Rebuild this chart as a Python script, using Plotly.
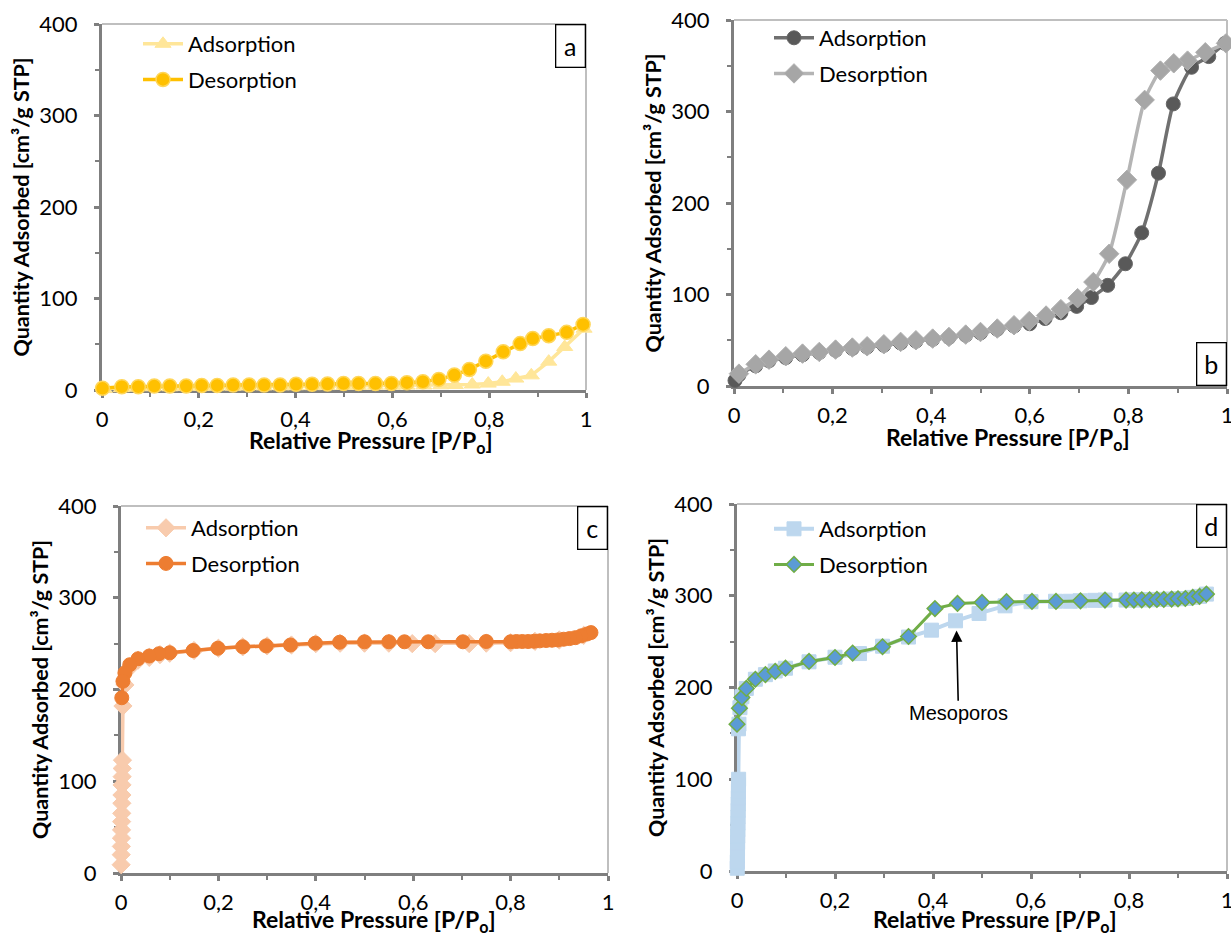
import plotly.graph_objects as go

# ---------------- data ----------------
# Panel a
a_ads_x = [0.005, 0.04, 0.07, 0.105, 0.14, 0.17, 0.205, 0.235, 0.27, 0.3, 0.335, 0.37, 0.4, 0.435, 0.465,
           0.5, 0.53, 0.565, 0.6, 0.63, 0.665, 0.7, 0.73, 0.765, 0.798, 0.827, 0.855, 0.887, 0.923, 0.956, 0.996]
a_ads_y = [1, 2, 2.5, 3, 3, 3.2, 3.4, 3.5, 3.6, 3.8, 3.9, 4, 4.1, 4.2, 4.3,
           4.4, 4.5, 4.6, 4.7, 4.8, 5, 5.2, 5.5, 6, 7, 9, 12.5, 16, 31, 47, 67]
a_des_x = [0.001, 0.041, 0.075, 0.108, 0.14, 0.174, 0.206, 0.238, 0.271, 0.304, 0.335, 0.368, 0.401, 0.434,
           0.466, 0.499, 0.53, 0.565, 0.598, 0.63, 0.663, 0.696, 0.728, 0.759, 0.793, 0.829, 0.864, 0.89,
           0.923, 0.96, 0.994]
a_des_y = [1.8, 3.6, 3.6, 4.3, 4.3, 4.3, 5.0, 5.0, 5.4, 5.4, 5.4, 5.4, 6.2, 6.2, 6.5, 7.0, 7.0, 7.0, 7.2,
           8.0, 9.0, 11.6, 16.3, 22.5, 31.5, 41.7, 50.7, 56.2, 59.4, 63.0, 71.7]

# Panel b
b_ads_x = [0.002, 0.01, 0.044, 0.071, 0.105, 0.139, 0.173, 0.206, 0.24, 0.27, 0.304, 0.338, 0.369, 0.403,
           0.436, 0.47, 0.5, 0.534, 0.568, 0.6, 0.631, 0.663, 0.695, 0.725, 0.758, 0.794, 0.827, 0.861,
           0.891, 0.928, 0.963, 0.996]
b_ads_y = [6, 12, 22, 27.5, 31, 34, 36.5, 39, 41, 42.5, 44.5, 47, 49, 51, 53, 55.5, 58, 62, 65.5, 68,
           73.7, 80, 87, 96.7, 110, 133.6, 167.4, 232.6, 308.3, 348.3, 360, 374.5]
b_des_x = [0.998, 0.956, 0.92, 0.892, 0.865, 0.833, 0.797, 0.761, 0.729, 0.697, 0.663, 0.633, 0.599, 0.568,
           0.534, 0.5, 0.47, 0.436, 0.403, 0.369, 0.338, 0.304, 0.27, 0.24, 0.206, 0.173, 0.139, 0.105,
           0.071, 0.044, 0.01]
b_des_y = [374.5, 364.7, 355.6, 352.7, 344.7, 312.7, 225.3, 144.5, 113.6, 96, 84, 77, 71, 66.4, 62.8, 59,
           56.2, 53.6, 51.8, 50, 48.2, 45.6, 43.4, 42, 39.8, 37.2, 35.4, 32.5, 28.8, 23.7, 13.5]

# Panel c
c_ads_x = [0.0003, 0.0005, 0.0007, 0.0009, 0.0011, 0.0013, 0.0015, 0.0017, 0.0019, 0.0021, 0.0023, 0.0026,
           0.003, 0.004, 0.008, 0.018, 0.035, 0.058, 0.08, 0.1, 0.15, 0.2, 0.25, 0.3, 0.35, 0.4, 0.45, 0.5,
           0.55, 0.598, 0.645, 0.715, 0.75, 0.8, 0.85, 0.9, 0.95]
c_ads_y = [9, 20, 29, 38, 47, 56, 65, 76, 85, 96, 105, 114, 123, 182, 205, 224, 232, 235, 238, 239.5,
           242.5, 245, 246.5, 247.5, 248.5, 250, 250.5, 250.5, 250.5, 250, 250, 250, 250.5, 251, 252.5, 254, 259]
c_des_x = [0.965, 0.957, 0.945, 0.933, 0.921, 0.909, 0.897, 0.885, 0.873, 0.86, 0.848, 0.836, 0.824, 0.812,
           0.8, 0.75, 0.702, 0.631, 0.582, 0.55, 0.5, 0.449, 0.399, 0.348, 0.298, 0.25, 0.199, 0.148, 0.1,
           0.078, 0.058, 0.035, 0.018, 0.008, 0.004, 0.0016]
c_des_y = [262, 260.5, 258.5, 256.5, 255.5, 254.8, 254, 253.7, 253.4, 253, 252.6, 252.3, 252.3, 252.3, 252,
           252.3, 252, 252, 252, 252, 252, 251.5, 250.5, 248.5, 247.5, 246.5, 245, 242.5, 240, 239, 236.5,
           233.5, 227, 218, 209, 191]

# Panel d
d_ads_x = [0.0005, 0.0007, 0.0009, 0.0011, 0.0013, 0.0015, 0.0017, 0.0019, 0.0021, 0.0023, 0.0025, 0.0027,
           0.0029, 0.0031, 0.0033, 0.003, 0.004, 0.006, 0.01, 0.019, 0.0375, 0.058, 0.078, 0.099, 0.147, 0.2,
           0.25, 0.297, 0.35, 0.397, 0.446, 0.494, 0.547, 0.6, 0.65, 0.68, 0.7, 0.73, 0.751, 0.794, 0.81,
           0.826, 0.842, 0.857, 0.871, 0.887, 0.9, 0.915, 0.93, 0.944, 0.958]
d_ads_y = [3, 10, 17, 24, 31, 38, 45, 52, 59, 66, 73, 80, 87, 94, 100, 155, 160, 178, 190, 199, 209, 214,
           218, 221, 228, 233, 237, 245, 255, 262.5, 272.7, 280.7, 289, 293.5, 294, 294, 294.5, 295, 295.3,
           295.3, 295.3, 295.6, 295.6, 296, 296, 296.4, 296.7, 297, 298.2, 299.3, 301.8]
d_des_x = [0.0, 0.005, 0.01, 0.019, 0.0375, 0.058, 0.078, 0.099, 0.147, 0.2, 0.236, 0.297, 0.35, 0.404, 0.45,
           0.5, 0.55, 0.602, 0.651, 0.701, 0.751, 0.794, 0.81, 0.826, 0.842, 0.857, 0.871, 0.887, 0.9, 0.915,
           0.93, 0.944, 0.958]
d_des_y = [160, 177.5, 189, 199, 209, 214, 217.5, 221, 228.4, 232.7, 237.5, 244.4, 255.6, 286, 291.6, 292.7,
           293.5, 293.8, 293.8, 294.5, 295.3, 295.3, 295.3, 295.6, 295.6, 296, 296, 296.4, 296.7, 297, 298.2,
           299.3, 301.8]

x_tickvals = [0, 0.2, 0.4, 0.6, 0.8, 1]
x_ticktext = ["0", "0,2", "0,4", "0,6", "0,8", "1"]
y_tickvals = [0, 100, 200, 300, 400]
y_ticktext = ["0", "100", "200", "300", "400"]
panel_labels = ["a", "b", "c", "d"]
series_names = ["Adsorption", "Desorption"]
x_title = "Relative Pressure [P/P<sub>o</sub>]"
y_title = "Quantity Adsorbed [cm³/g STP]"
note_text = "Mesoporos"

# ---------------- layout ----------------
W, H = 1231, 936
FONT = "Lato, Carlito, 'Open Sans', sans-serif"

# pixel boxes: (x0, x1, ytop, ybottom)
boxes = [(102, 586, 24, 390), (734, 1227, 20, 386), (121, 608, 506, 873), (737, 1227, 504, 871)]
legend_pos = [(138, 23), (769, 17), (141, 507), (769, 508)]
xtitle_pos = [(0.555, 441), (0.555, 438), (0.52, 920), (0.527, 920)]

fig = go.Figure()

def add(panel, x, y, name, mode_kw):
    sfx = "" if panel == 0 else str(panel + 1)
    fig.add_trace(go.Scatter(x=x, y=y, name=name, mode="lines+markers",
                             xaxis="x" + sfx, yaxis="y" + sfx,
                             legend="legend" + sfx, legendgroup=name + sfx,
                             cliponaxis=False, **mode_kw))

add(0, a_ads_x, a_ads_y, series_names[0],
    dict(line=dict(color="#FFE699", width=3.5),
         marker=dict(symbol="triangle-up", size=14, color="#FFE699", line=dict(color="#FFE699", width=1))))
add(0, a_des_x, a_des_y, series_names[1],
    dict(line=dict(color="#FFC000", width=3.5),
         marker=dict(symbol="circle", size=14, color="#FFC000", line=dict(color="#FFD659", width=1.5))))
add(1, b_ads_x, b_ads_y, series_names[0],
    dict(line=dict(color="#707070", width=3.5, shape="spline", smoothing=0.6),
         marker=dict(symbol="circle", size=14, color="#595959", line=dict(color="#666666", width=1))))
add(1, b_des_x, b_des_y, series_names[1],
    dict(line=dict(color="#B4B4B4", width=3.5, shape="spline", smoothing=0.6),
         marker=dict(symbol="diamond", size=15, color="#A6A6A6", line=dict(color="#B0B0B0", width=1))))
add(2, c_ads_x, c_ads_y, series_names[0],
    dict(line=dict(color="#F8CBAD", width=3.5),
         marker=dict(symbol="diamond", size=14, color="#F8CBAD", line=dict(color="#F8CBAD", width=1))))
add(2, c_des_x, c_des_y, series_names[1],
    dict(line=dict(color="#ED7D31", width=3.5),
         marker=dict(symbol="circle", size=14, color="#ED7D31", line=dict(color="#ED7D31", width=1))))
add(3, d_ads_x, d_ads_y, series_names[0],
    dict(line=dict(color="#BDD7EE", width=4),
         marker=dict(symbol="square", size=14, color="#BDD7EE", line=dict(color="#BDD7EE", width=1))))
add(3, d_des_x, d_des_y, series_names[1],
    dict(line=dict(color="#70AD47", width=3),
         marker=dict(symbol="diamond", size=12, color="#5B9BD5", line=dict(color="#70AD47", width=1.5))))

layout = dict(width=W, height=H, margin=dict(l=0, r=0, t=0, b=0, autoexpand=False),
              paper_bgcolor="white", plot_bgcolor="white",
              font=dict(family=FONT, color="black"), showlegend=True)

axis_col = "#7F7F7F"
annotations = []
shapes = []
for i, (x0, x1, yt, yb) in enumerate(boxes):
    sfx = "" if i == 0 else str(i + 1)
    xd = [x0 / W, x1 / W]
    yd = [1 - yb / H, 1 - yt / H]
    common = dict(showgrid=False, zeroline=False, showline=True, linecolor=axis_col, linewidth=3,
                  ticks="outside", ticklen=5, tickwidth=3, tickcolor=axis_col, automargin=False,
                  ticklabeloverflow="allow",
                  tickfont=dict(family=FONT, size=22, color="black"), layer="below traces")
    layout["xaxis" + sfx] = dict(domain=xd, range=[0, 1], anchor="y" + sfx, tickvals=x_tickvals,
                                 ticktext=x_ticktext, ticklabelstandoff=3,
                                 minor=dict(dtick=0.1, ticks="outside", ticklen=4, tickwidth=2,
                                            tickcolor=axis_col, showgrid=False),
                                 **common)
    layout["yaxis" + sfx] = dict(domain=yd, range=[0, 400], anchor="x" + sfx, tickvals=y_tickvals,
                                 ticktext=y_ticktext, ticklabelstandoff=12,
                                 minor=dict(dtick=50, ticks="outside", ticklen=4, tickwidth=2,
                                            tickcolor=axis_col, showgrid=False),
                                 title=dict(text=y_title,
                                            font=dict(family=FONT, size=21.5, color="black", weight="bold"),
                                            standoff=4),
                                 **common)
    lx, ly = legend_pos[i]
    layout["legend" + sfx] = dict(x=lx / W, y=1 - ly / H, xanchor="left", yanchor="top",
                                  bgcolor="rgba(0,0,0,0)", tracegroupgap=4,
                                  font=dict(family=FONT, size=22, color="black"), itemwidth=40)
    # plot area frame (top and right)
    xr, yr = "x" + sfx + " domain", "y" + sfx + " domain"
    shapes.append(dict(type="line", xref=xr, yref=yr, x0=0, x1=1, y0=1, y1=1,
                       line=dict(color="#BFBFBF", width=2), layer="below"))
    shapes.append(dict(type="line", xref=xr, yref=yr, x0=1, x1=1, y0=0, y1=1,
                       line=dict(color="#BFBFBF", width=2), layer="below"))
    # x title
    tx, ty = xtitle_pos[i]
    annotations.append(dict(text=x_title, xref=xr, yref="paper", x=tx, y=1 - ty / H,
                            xanchor="center", yanchor="middle", showarrow=False,
                            font=dict(family=FONT, size=23, color="black", weight="bold")))
    # panel label box
    top = i != 1
    annotations.append(dict(text=panel_labels[i], xref=xr, yref=yr, x=1, y=1 if top else 0,
                            xanchor="right", yanchor="top" if top else "bottom", showarrow=False,
                            font=dict(family=FONT, size=25, color="black"),
                            bordercolor="black", borderwidth=1.3, borderpad=5, bgcolor="white",
                            width=18, height=31))

annotations.append(dict(text=note_text, xref="x4", yref="y4", x=0.448, y=262, axref="x4", ayref="y4",
                        ax=0.452, ay=172, showarrow=True, arrowhead=2, arrowsize=1.4, arrowwidth=1.6,
                        arrowcolor="black",
                        font=dict(family="Liberation Sans, Arial, sans-serif", size=20, color="black")))

layout["annotations"] = annotations
layout["shapes"] = shapes
fig.update_layout(**layout)
fig.write_html("out.html")
